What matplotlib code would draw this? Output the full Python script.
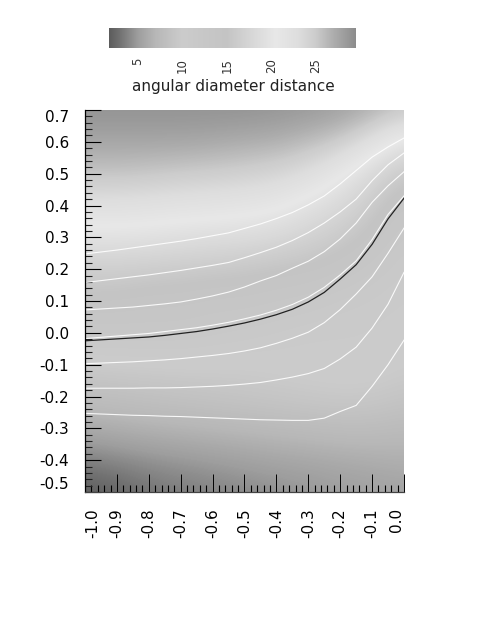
import numpy as np
import matplotlib
matplotlib.use('Agg')
import matplotlib.pyplot as plt
from matplotlib.colors import LinearSegmentedColormap

# grey levels of the colour bar, read at these distances
bar_vals = [1.75, 3, 5, 7, 10, 13, 15, 18, 20.5, 23, 25, 27, 29.5]
bar_grey = [0.36, 0.45, 0.62, 0.72, 0.80, 0.78, 0.77, 0.85, 0.91, 0.87, 0.80, 0.68, 0.55]

bar_ticks = [5, 10, 15, 20, 25]

# distance read from the shading, rows y = 0.7 ... -0.5, columns x = -1.0 ... 0.0
dist = [
    [29.0, 29.0, 29.0, 29.0, 29.0, 29.0, 28.8, 28.5, 28.0, 27.0, 25.5],
    [27.5, 27.5, 27.5, 27.5, 27.3, 27.0, 26.8, 26.0, 25.0, 22.5, 19.5],
    [25.5, 25.5, 25.3, 25.0, 24.8, 24.5, 24.0, 23.0, 20.8, 18.0, 15.5],
    [22.5, 22.5, 22.3, 22.0, 21.8, 21.5, 21.0, 19.5, 18.0, 16.0, 13.5],
    [19.5, 19.5, 19.3, 19.0, 18.7, 18.5, 18.0, 17.0, 16.0, 14.5, 12.0],
    [16.5, 16.5, 16.3, 16.0, 15.8, 15.5, 15.0, 14.8, 14.0, 12.5, 11.0],
    [14.5, 14.5, 14.0, 14.0, 13.5, 13.5, 13.0, 12.5, 11.5, 11.0, 10.5],
    [12.5, 12.5, 12.5, 12.5, 12.0, 11.5, 11.0, 10.5, 10.5, 10.5, 10.2],
    [9.6, 9.8, 9.9, 10.0, 10.0, 10.0, 10.2, 10.4, 10.5, 10.5, 10.0],
    [8.0, 8.2, 8.4, 8.6, 8.8, 9.0, 9.2, 9.4, 9.6, 9.5, 9.0],
    [6.0, 6.3, 6.6, 6.8, 7.0, 7.2, 7.4, 7.6, 7.8, 7.8, 7.5],
    [3.6, 4.0, 4.4, 4.7, 5.0, 5.3, 5.6, 5.8, 6.0, 6.2, 6.4],
    [1.75, 2.2, 3.0, 3.4, 3.7, 4.0, 4.3, 4.6, 5.0, 5.2, 5.4],
]

curve_x = [-1.0, -0.95, -0.9, -0.85, -0.8, -0.75, -0.7, -0.65, -0.6, -0.55, -0.5,
           -0.45, -0.4, -0.35, -0.3, -0.25, -0.2, -0.15, -0.1, -0.05, 0.0]

c1 = [0.248, 0.254, 0.260, 0.267, 0.274, 0.281, 0.288, 0.296, 0.305, 0.314, 0.328,
      0.342, 0.359, 0.378, 0.402, 0.430, 0.468, 0.510, 0.552, 0.584, 0.612]
c2 = [0.158, 0.164, 0.170, 0.176, 0.182, 0.189, 0.196, 0.204, 0.212, 0.221, 0.236,
      0.252, 0.269, 0.290, 0.315, 0.345, 0.380, 0.420, 0.478, 0.528, 0.565]
c3 = [0.072, 0.075, 0.078, 0.081, 0.086, 0.091, 0.097, 0.106, 0.116, 0.128, 0.144,
      0.163, 0.180, 0.203, 0.225, 0.255, 0.295, 0.345, 0.410, 0.462, 0.506]
c4 = [-0.018, -0.014, -0.010, -0.006, -0.002, 0.004, 0.010, 0.016, 0.024, 0.033, 0.044,
      0.056, 0.071, 0.089, 0.112, 0.143, 0.182, 0.226, 0.293, 0.372, 0.430]
c5 = [-0.097, -0.095, -0.093, -0.091, -0.088, -0.085, -0.081, -0.076, -0.071, -0.065, -0.057,
      -0.047, -0.033, -0.017, 0.002, 0.032, 0.073, 0.122, 0.176, 0.250, 0.329]
c6 = [-0.174, -0.174, -0.174, -0.174, -0.173, -0.173, -0.172, -0.170, -0.168, -0.165, -0.161,
      -0.156, -0.148, -0.139, -0.128, -0.112, -0.082, -0.045, 0.015, 0.090, 0.190]
c7 = [-0.253, -0.255, -0.257, -0.259, -0.260, -0.262, -0.263, -0.265, -0.267, -0.269, -0.271,
      -0.273, -0.274, -0.275, -0.275, -0.268, -0.247, -0.228, -0.168, -0.100, -0.023]
black = [-0.025, -0.022, -0.019, -0.016, -0.013, -0.008, -0.002, 0.004, 0.012, 0.021, 0.031,
         0.043, 0.057, 0.074, 0.097, 0.127, 0.169, 0.214, 0.278, 0.358, 0.423]

x_ticks = [-1.0, -0.9, -0.8, -0.7, -0.6, -0.5, -0.4, -0.3, -0.2, -0.1, 0.0]
y_ticks = [-0.5, -0.4, -0.3, -0.2, -0.1, 0.0, 0.1, 0.2, 0.3, 0.4, 0.5, 0.6, 0.7]

W, H = 491, 618
vmin, vmax = bar_vals[0], bar_vals[-1]
stops = [((v - vmin) / (vmax - vmin), (g, g, g)) for v, g in zip(bar_vals, bar_grey)]
cmap = LinearSegmentedColormap.from_list('dist', stops, N=512)

def box(l, t, r, b):
    return [l / W, 1 - b / H, (r - l) / W, (b - t) / H]

fig = plt.figure(figsize=(W / 100, H / 100), dpi=100)

ax = fig.add_axes(box(85, 110, 404, 492))
# cells are centred on the grid points, so the extent overhangs by half a cell
ax.imshow(np.array(dist), extent=[-1.05, 0.05, -0.55, 0.75], aspect='auto', cmap=cmap,
          vmin=vmin, vmax=vmax, interpolation='bicubic', interpolation_stage='data')
for c in [c1, c2, c3, c4, c5, c6, c7]:
    ax.plot(curve_x, c, color='white', lw=0.8, alpha=0.9)
ax.plot(curve_x, black, color='#222222', lw=0.9)
ax.set_xlim(-1, 0)
ax.set_ylim(-0.5, 0.7)

for s in ['top', 'right']:
    ax.spines[s].set_visible(False)
ax.spines['left'].set_linewidth(0.9)
ax.spines['bottom'].set_linewidth(0.9)
ax.spines['bottom'].set_color('#444444')

ax.set_xticks(x_ticks)
ax.set_yticks(y_ticks)
ax.set_xticklabels(['%.1f' % v for v in x_ticks], rotation=90, fontsize=11)
ax.set_yticklabels(['%.1f' % v for v in y_ticks], fontsize=11)
ax.set_xticks(np.arange(-1, 0.001, 0.02), minor=True)
ax.set_yticks(np.arange(-0.5, 0.701, 0.02), minor=True)
ax.tick_params(axis='x', which='major', direction='in', length=13, width=0.7, pad=11.5)
ax.tick_params(axis='y', which='major', direction='in', length=11.5, width=0.8, pad=11.5)
ax.tick_params(axis='x', which='minor', direction='in', length=5, width=0.8, color='black')
ax.tick_params(axis='y', which='minor', direction='in', length=5, width=0.8, color='#222222')

# the end labels sit inside the axis range
ax.get_xticklabels()[0].set_ha('left')
ax.get_xticklabels()[-1].set_ha('right')
ax.get_yticklabels()[0].set_va('bottom')
ax.get_yticklabels()[-1].set_va('top')

# colour bar
cax = fig.add_axes(box(109, 28, 356, 48))
cax.imshow(np.linspace(vmin, vmax, 512)[None, :], extent=[vmin, vmax, 0, 1], aspect='auto',
           cmap=cmap, vmin=vmin, vmax=vmax)
for s in cax.spines.values():
    s.set_visible(False)
cax.set_yticks([])
cax.set_xticks(bar_ticks)
cax.set_xticklabels([str(v) for v in bar_ticks], rotation=90, fontsize=8.5, color='#333333')
cax.tick_params(axis='x', length=0, pad=7)
fig.text(233 / W, 1 - 87 / H, 'angular diameter distance', fontsize=11, color='#222222',
         ha='center', va='center')

fig.savefig('out.png', dpi=100)
